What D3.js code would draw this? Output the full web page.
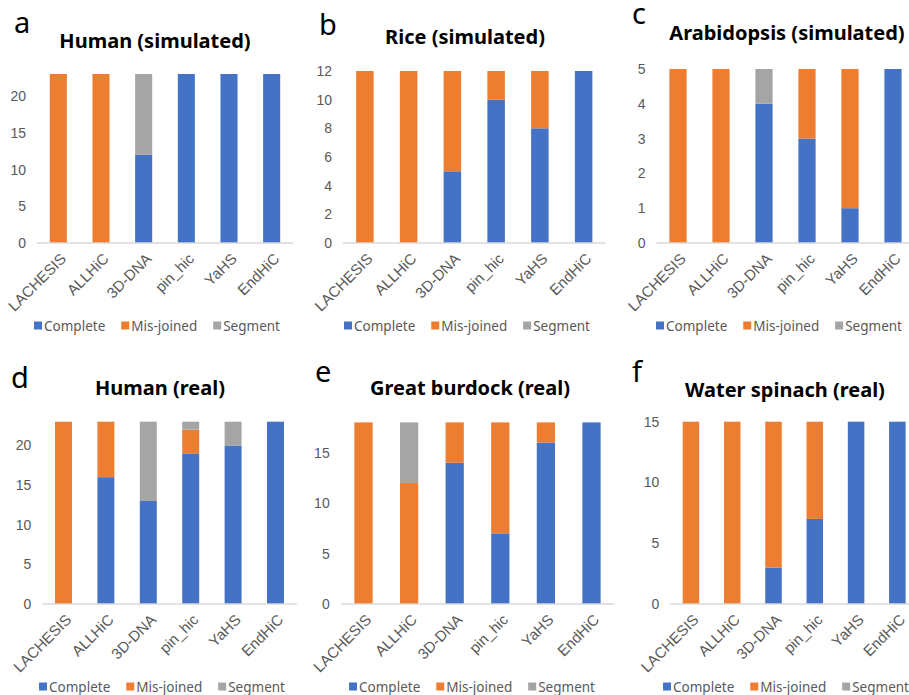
<!DOCTYPE html>
<html>
<head>
<meta charset="utf-8">
<script src="https://cdn.jsdelivr.net/npm/d3@7"></script>
<style>
  body { margin: 0; background: #fff; }
  svg { display: block; font-family: "Noto Sans", "Open Sans", sans-serif; }
</style>
</head>
<body>
<svg id="chart" width="909" height="695"></svg>
<script>
const methods = ['LACHESIS', 'ALLHiC', '3D-DNA', 'pin_hic', 'YaHS', 'EndHiC'];
const seriesNames = ['Complete', 'Mis-joined', 'Segment'];
const seriesColors = ['#4472C4', '#ED7D31', '#A5A5A5'];

// [complete, mis-joined, segment] per method
const humanSim = [[0, 0, 12, 23, 23, 23], [23, 23, 0, 0, 0, 0], [0, 0, 11, 0, 0, 0]];
const riceSim = [[0, 0, 5, 10, 8, 12], [12, 12, 7, 2, 4, 0], [0, 0, 0, 0, 0, 0]];
const arabSim = [[0, 0, 4, 3, 1, 5], [5, 5, 0, 2, 4, 0], [0, 0, 1, 0, 0, 0]];
const humanReal = [[0, 16, 13, 19, 20, 23], [23, 7, 0, 3, 0, 0], [0, 0, 10, 1, 3, 0]];
const burdockReal = [[0, 0, 14, 7, 16, 18], [18, 12, 4, 11, 2, 0], [0, 6, 0, 0, 0, 0]];
const spinachReal = [[0, 0, 3, 7, 15, 15], [15, 15, 12, 8, 0, 0], [0, 0, 0, 0, 0, 0]];

const ticksA = [0, 5, 10, 15, 20];
const ticksB = [0, 2, 4, 6, 8, 10, 12];
const ticksC = [0, 1, 2, 3, 4, 5];
const ticksD = [0, 5, 10, 15, 20];
const ticksE = [0, 5, 10, 15];
const ticksF = [0, 5, 10, 15];

const panels = [
  { letter: 'a', title: 'Human (simulated)', data: humanSim, ticks: ticksA, max: 23,
    x0: 37, x1: 293, y0: 243, yTop: 74, lx: 14, ly: 33, tx: 155, ty: 48, legX: 157, legY: 326 },
  { letter: 'b', title: 'Rice (simulated)', data: riceSim, ticks: ticksB, max: 12,
    x0: 343, x1: 605.5, y0: 243, yTop: 71, lx: 319, ly: 35, tx: 465, ty: 44, legX: 467, legY: 326 },
  { letter: 'c', title: 'Arabidopsis (simulated)', data: arabSim, ticks: ticksC, max: 5,
    x0: 656.5, x1: 914.5, y0: 243, yTop: 69, lx: 632, ly: 24, tx: 787, ty: 40, legX: 779, legY: 326 },
  { letter: 'd', title: 'Human (real)', data: humanReal, ticks: ticksD, max: 23,
    x0: 42.3, x1: 296.7, y0: 604, yTop: 421.7, lx: 11, ly: 388, tx: 160, ty: 395, legX: 162, legY: 687 },
  { letter: 'e', title: 'Great burdock (real)', data: burdockReal, ticks: ticksE, max: 18,
    x0: 340.7, x1: 614.3, y0: 604, yTop: 422.4, lx: 315, ly: 382, tx: 470, ty: 395, legX: 472, legY: 687 },
  { letter: 'f', title: 'Water spinach (real)', data: spinachReal, ticks: ticksF, max: 15,
    x0: 670.3, x1: 918, y0: 604, yTop: 421.7, lx: 632, ly: 382, tx: 785, ty: 397, legX: 786, legY: 687 }
];

const svg = d3.select('#chart');

function drawPanel(p) {
  const g = svg.append('g');

  const rows = methods.map((m, i) => {
    const row = { method: m };
    seriesNames.forEach((s, k) => { row[s] = p.data[k][i]; });
    return row;
  });
  const stacked = d3.stack().keys(seriesNames)(rows);

  const x = d3.scaleBand()
    .domain(methods)
    .range([p.x0, p.x1])
    .paddingInner(0.6)
    .paddingOuter(0.3);

  const y = d3.scaleLinear()
    .domain([0, p.max])
    .range([p.y0, p.yTop]);

  // y tick labels, no axis line
  const yAxis = g.append('g')
    .attr('transform', `translate(${p.x0},0)`)
    .call(d3.axisLeft(y).tickValues(p.ticks).tickFormat(d3.format('d')).tickSize(0).tickPadding(11));
  yAxis.select('.domain').remove();
  yAxis.selectAll('text')
    .attr('fill', '#595959')
    .style('font-size', '14px');

  stacked.forEach((layer, k) => {
    g.append('g')
      .attr('fill', seriesColors[k])
      .selectAll('rect')
      .data(layer.filter(d => d[1] > d[0]))
      .join('rect')
      .attr('x', d => x(d.data.method))
      .attr('width', x.bandwidth())
      .attr('y', d => y(d[1]))
      .attr('height', d => y(d[0]) - y(d[1]));
  });

  // category axis
  const xAxis = g.append('g')
    .attr('transform', `translate(0,${p.y0})`)
    .call(d3.axisBottom(x).tickSize(0).tickPadding(0));
  xAxis.select('.domain')
    .attr('stroke', '#D9D9D9')
    .attr('stroke-width', 1.3)
    .attr('d', `M${p.x0},0H${Math.min(p.x1, 909)}`);
  xAxis.selectAll('text')
    .attr('fill', '#595959')
    .style('font-size', '15px')
    .attr('text-anchor', 'end')
    .attr('dy', '0.35em')
    .attr('y', 0)
    .attr('transform', 'translate(5,13) rotate(-45)');

  g.append('text')
    .attr('x', p.lx)
    .attr('y', p.ly)
    .style('font-size', '29px')
    .attr('fill', '#000')
    .text(p.letter);

  g.append('text')
    .attr('x', p.tx)
    .attr('y', p.ty)
    .attr('text-anchor', 'middle')
    .style('font-size', '20px')
    .style('font-weight', 'bold')
    .attr('fill', '#000')
    .text(p.title);

  // legend
  const leg = g.append('g');
  let cursor = 0;
  seriesNames.forEach((s, k) => {
    const item = leg.append('g').attr('transform', `translate(${cursor},0)`);
    item.append('rect')
      .attr('x', 0).attr('y', -4.5)
      .attr('width', 8).attr('height', 8)
      .attr('fill', seriesColors[k]);
    const t = item.append('text')
      .attr('x', 10)
      .attr('dy', '0.35em')
      .attr('fill', '#595959')
      .style('font-size', '13.5px')
      .text(s);
    cursor += 10 + t.node().getComputedTextLength() + 16;
  });
  const legWidth = cursor - 16;
  leg.attr('transform', `translate(${p.legX - legWidth / 2},${p.legY})`);
}

panels.forEach(drawPanel);
</script>
</body>
</html>
